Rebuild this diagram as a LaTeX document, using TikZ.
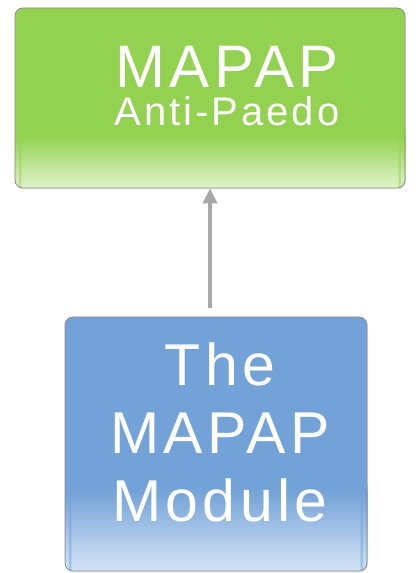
\documentclass[tikz,border=0pt]{standalone}
\usepackage{fontspec}
\usepackage{tikz}
\usetikzlibrary{arrows.meta,shadows}
\newfontfamily\mapfont[LetterSpace=7.5]{Liberation Sans}
\definecolor{mapgreen}{RGB}{146,210,80}
\definecolor{mapgreenlight}{RGB}{224,242,200}
\definecolor{mapblue}{RGB}{115,162,216}
\definecolor{mapbluelight}{RGB}{212,227,245}
\definecolor{mapgray}{RGB}{168,168,168}
\tikzset{map box/.style={
  draw=black!45,
  line width=0.8pt,
  rounded corners=8pt,
  inner sep=0pt,
  drop shadow={shadow xshift=1pt,shadow yshift=-1.5pt,opacity=0.18}
  },
  map shade/.style n args={3}{
  path picture={\foreach \i [evaluate=\i as \p using {int(100-100*\i/#3)}] in {0,...,#3}
    \fill[#1!\p!#2] ([yshift=\i pt]path picture bounding box.south west) rectangle ([yshift=\i pt+1.5pt]path picture bounding box.south east);}
  },
  map text/.style={
  text=white,
  align=center,
  font=\mapfont
  },
  my arrow/.style={
  mapgray,
  line width=3.5pt,
  -{Triangle[length=15pt,width=14pt]}
  }
}

\begin{document}
\begin{tikzpicture}[x=1pt,y=1pt]
    \useasboundingbox (0,0) rectangle (419,573);

    \node[map box,fill=mapgreen,minimum width=390pt,minimum height=180pt,
      map shade={mapgreenlight}{mapgreen}{52}] (paedo) at (210,475) {};
    \node[map text] (paedotext) at (227,487)
      {{\fontsize{60}{60}\selectfont MAPAP}\\[8pt]{\fontsize{40}{40}\selectfont Anti-Paedo}};

    \node[map box,fill=mapblue,minimum width=302pt,minimum height=254pt,
      map shade={mapbluelight}{mapblue}{80}] (module) at (216,129) {};
    \node[map text,font=\mapfont\fontsize{59}{68}\selectfont] (moduletext) at (220,141) {The\\MAPAP\\Module};

    \draw[my arrow,shorten <=9pt]  (module.north -| paedo.south) to (paedo.south);

\end{tikzpicture}
\end{document}
